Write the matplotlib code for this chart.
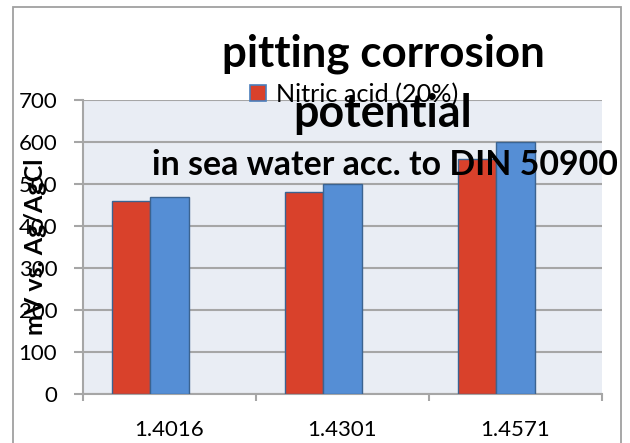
import matplotlib
matplotlib.use("Agg")
import matplotlib.pyplot as plt
from matplotlib.patches import Patch, Rectangle

# data
categories = ["1.4016", "1.4301", "1.4571"]
nitric_acid = [460, 480, 560]
second_series = [470, 500, 600]
yticks = [0, 100, 200, 300, 400, 500, 600, 700]

RED = "#D9412B"
BLUE = "#558ED5"
EDGE = "#3B6390"
GRID = "#A6A6A6"
BG = "#E9EDF4"
FONT = "Lato"

W, H, DPI = 630, 443, 100
fig = plt.figure(figsize=(W / DPI, H / DPI), dpi=DPI)
fig.patch.set_facecolor("white")


def px(x, y):
    """pixel coords (top-left origin) -> figure fraction"""
    return x / W, 1 - y / H


# plot area in pixels: x 83..602, y 100 (700) .. 394 (0)
l, b = px(83, 394)
r, t = px(602, 100)
ax = fig.add_axes([l, b, r - l, t - b])
ax.set_facecolor(BG)

xs = list(range(len(categories)))
w = 0.22
ax.bar([x - w for x in xs], nitric_acid, w, color=RED, edgecolor=EDGE, linewidth=1.0, zorder=3)
ax.bar(xs, second_series, w, color=BLUE, edgecolor=EDGE, linewidth=1.0, zorder=3)

ax.set_xlim(-0.5, len(categories) - 0.5)
ax.set_ylim(0, 700)
ax.set_yticks(yticks)
ax.set_yticklabels([str(v) for v in yticks], fontsize=16, family=FONT)
ax.set_xticks(xs)
ax.set_xticklabels(categories, fontsize=16, family=FONT)
ax.set_xticks([x - 0.5 for x in range(len(categories) + 1)], minor=True)
ax.tick_params(axis="x", which="major", length=0, pad=19)
ax.tick_params(axis="x", which="minor", length=5, width=1.5, color=GRID)
ax.tick_params(axis="y", length=6.5, width=1.5, color=GRID, pad=12)
ax.grid(axis="y", color=GRID, linewidth=1.5, zorder=1)
for s in ["top", "right"]:
    ax.spines[s].set_visible(False)
for s in ["bottom", "left"]:
    ax.spines[s].set_color(GRID)
    ax.spines[s].set_linewidth(1.5)

# outer chart border
x0, y0 = px(13, 6.5)
x1, _ = px(621, 0)
fig.add_artist(Rectangle((x0, -0.05), x1 - x0, y0 + 0.05, transform=fig.transFigure,
                         fill=False, edgecolor="#A0A0A0", linewidth=1.3, clip_on=False))


# legend (only the first entry is visible in the reference)
def make_legend(size, top):
    sq = 16 / (size * DPI / 72)  # 16 px square
    return fig.legend(handles=[Patch(facecolor=RED, edgecolor="#4A7EBB", linewidth=1.2)],
                      labels=["Nitric acid (20%)"], loc="upper left",
                      bbox_to_anchor=px(237, top), frameon=False, borderpad=0,
                      handlelength=sq, handleheight=sq, handletextpad=0.4,
                      prop={"family": FONT, "size": size})


leg = make_legend(16, 70)
fig.canvas.draw()
size = 16 * 183 / leg.get_texts()[0].get_window_extent().width
leg.remove()
make_legend(size, 70)


def fit_text(s, cx, base, width, **kw):
    fx, fy = px(cx, base)
    txt = fig.text(fx, fy, s, ha="center", va="baseline", fontsize=20, family=FONT,
                   zorder=10, **kw)
    fig.canvas.draw()
    cur = txt.get_window_extent().width
    txt.set_fontsize(20 * width / cur)
    return txt


fit_text("pitting corrosion", 383, 67, 323, fontweight="bold")
fit_text("potential", 383, 127, 179, fontweight="bold")
fit_text("in sea water acc. to DIN 50900", 384.5, 175, 465, fontweight="bold")

fig.text(*px(36, 247), "mV vs. Ag/AgCl", rotation=90, ha="center", va="center",
         fontsize=18, fontweight="bold", family=FONT, zorder=10)

fig.savefig("out.png", dpi=DPI)
